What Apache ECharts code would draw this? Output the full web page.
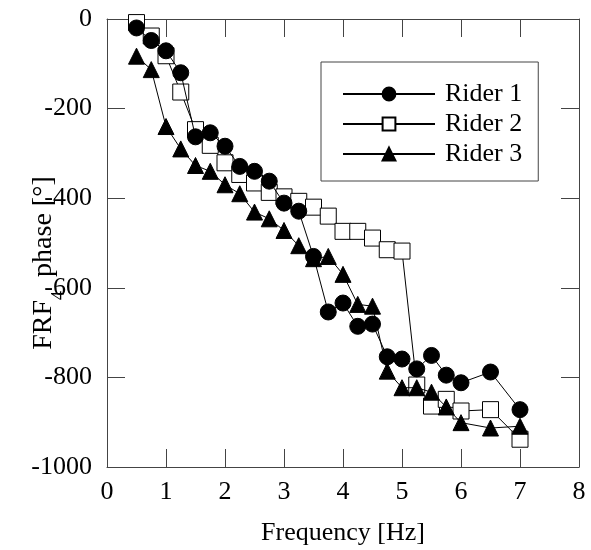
<!DOCTYPE html>
<html>
<head>
<meta charset="utf-8">
<script src="https://cdn.jsdelivr.net/npm/echarts@6/dist/echarts.min.js"></script>
<style>
  html, body { margin: 0; padding: 0; background: #fff; }
  #chart { width: 591px; height: 550px; }
</style>
</head>
<body>
<div id="chart"></div>
<script>
// frequency points (Hz)
const freqs = [0.5, 0.75, 1, 1.25, 1.5, 1.75, 2, 2.25, 2.5, 2.75, 3, 3.25, 3.5, 3.75, 4, 4.25, 4.5, 4.75, 5, 5.25, 5.5, 5.75, 6, 6.5, 7]

// phase values (deg)
const rider1 = [-20, -48, -71, -120, -263, -254, -284, -329, -340, -362, -411, -429, -530, -654, -634, -686, -681, -754, -759, -781, -751, -795, -812, -788, -872]
const rider2 = [-8, -38, -82, -163, -247, -282, -321, -347, -366, -387, -397, -407, -420, -440, -474, -474, -489, -515, -518, -817, -864, -849, -875, -872, -938]
const rider3 = [-83, -113, -240, -290, -327, -340, -370, -390, -431, -446, -472, -506, -535, -530, -570, -637, -641, -786, -823, -823, -833, -866, -901, -913, -909]

const xTicks = { min: 0, max: 8, interval: 1 }
const yTicks = { min: -1000, max: 0, interval: 200 }

const font = 'Liberation Serif'
const fontSize = 26
const axisColor = '#444'

const pairs = (ys) => freqs.map((f, i) => [f, ys[i]])

const chart = echarts.init(document.getElementById('chart'))

const baseSeries = (name, ys, symbol, fill, z) => ({
  name,
  type: 'line',
  data: pairs(ys),
  z,
  symbol,
  symbolSize: 16,
  showAllSymbol: true,
  lineStyle: { color: '#000', width: 1 },
  itemStyle: { color: fill, borderColor: '#000', borderWidth: 1, opacity: 1 },
  emphasis: { disabled: true },
  animation: false,
})

const axisCommon = {
  axisLine: { show: true, onZero: false, lineStyle: { color: axisColor, width: 1 } },
  axisTick: { show: true, inside: true, length: 18, lineStyle: { color: axisColor, width: 1 } },
  splitLine: { show: false },
  nameMoveOverlap: false,
}

const options = {
  backgroundColor: '#fff',
  animation: false,
  grid: { left: 107, top: 19, right: 12, bottom: 83, containLabel: false, outerBoundsMode: 'none' },
  legend: {
    data: ['Rider 1', 'Rider 2', 'Rider 3'],
    orient: 'vertical',
    left: 321,
    top: 62,
    itemWidth: 92,
    itemHeight: 16,
    itemGap: 4,
    padding: [19, 16, 14, 21],
    borderColor: axisColor,
    borderWidth: 1,
    backgroundColor: '#fff',
    selectedMode: false,
    textStyle: { fontFamily: font, fontSize: fontSize, color: '#000', lineHeight: 26, padding: [0, 0, 0, 5] },
  },
  xAxis: [
    {
      type: 'value',
      ...xTicks,
      position: 'bottom',
      name: 'Frequency [Hz]',
      nameLocation: 'middle',
      nameGap: 53,
      nameTextStyle: { fontFamily: font, fontSize: fontSize, color: '#000' },
      axisLabel: { fontFamily: font, fontSize: fontSize, color: '#000', margin: 12 },
      ...axisCommon,
    },
    {
      type: 'value',
      ...xTicks,
      position: 'top',
      axisLabel: { show: false },
      ...axisCommon,
    },
  ],
  yAxis: [
    {
      type: 'value',
      ...yTicks,
      position: 'left',
      name: '{a|FRF}{sub|4}{a|  phase [°]}',
      nameLocation: 'middle',
      nameGap: 39,
      nameTextStyle: {
        padding: [0, 40, 0, 0],
        rich: {
          a: { fontFamily: font, fontSize: 28, color: '#000', lineHeight: 48 },
          sub: { fontFamily: font, fontSize: 18, color: '#000', lineHeight: 18, verticalAlign: 'bottom' },
        },
      },
      axisLabel: { fontFamily: font, fontSize: fontSize, color: '#000', margin: 15, formatter: (v) => String(v) },
      ...axisCommon,
    },
    {
      type: 'value',
      ...yTicks,
      position: 'right',
      axisLabel: { show: false },
      ...axisCommon,
    },
  ],
  series: [
    baseSeries('Rider 2', rider2, 'rect', '#fff', 2),
    baseSeries('Rider 3', rider3, 'triangle', '#000', 3),
    baseSeries('Rider 1', rider1, 'circle', '#000', 4),
  ],
}

chart.setOption(options, true)
</script>
</body>
</html>
